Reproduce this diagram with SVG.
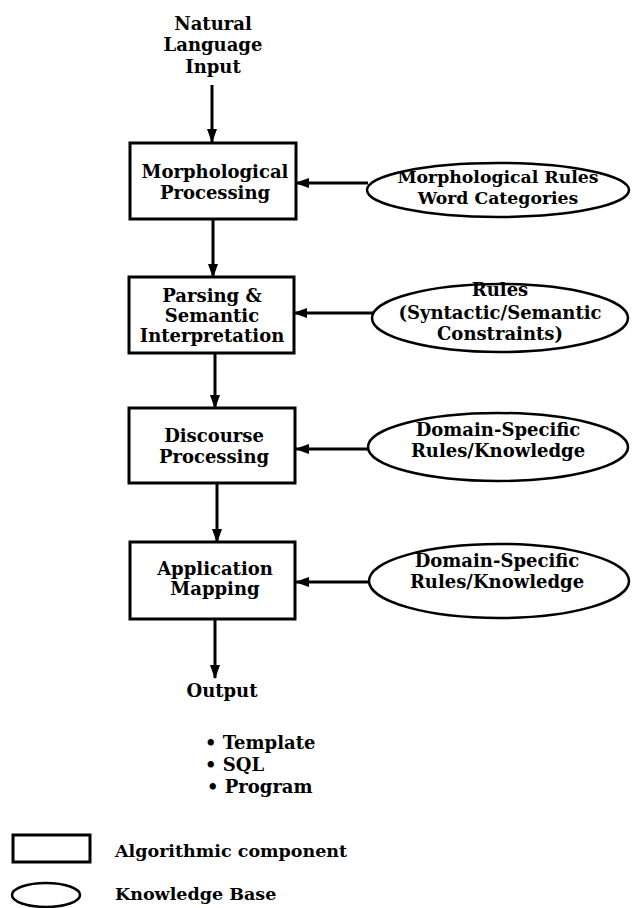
<svg xmlns="http://www.w3.org/2000/svg" width="632" height="908" viewBox="0 0 632 908">
<defs>
<style>
text{font-family:"DejaVu Serif","Liberation Serif",serif;font-weight:bold;font-size:18px;fill:#000;text-anchor:middle}
.l{text-anchor:start}
.s{font-size:17.3px}
.box{fill:#fff;stroke:#000;stroke-width:3}
.kb{fill:#fff;stroke:#000;stroke-width:2.5}
.c{stroke:#000;stroke-width:3;fill:none}
</style>
<marker id="ah" viewBox="0 0 14 10" refX="13" refY="5" markerWidth="14" markerHeight="10" markerUnits="userSpaceOnUse" orient="auto">
<path d="M0,0 L14,5 L0,10 Z" fill="#000"/>
</marker>
</defs>
<rect width="632" height="908" fill="#fff"/>

<g id="input">
<text x="213" y="30">Natural</text>
<text x="213" y="51">Language</text>
<text x="213" y="73">Input</text>
</g>

<g id="connectors">
<line class="c" x1="212" y1="85" x2="212" y2="142" marker-end="url(#ah)"/>
<line class="c" x1="213" y1="219" x2="213" y2="277" marker-end="url(#ah)"/>
<line class="c" x1="215" y1="353" x2="215" y2="408" marker-end="url(#ah)"/>
<line class="c" x1="217" y1="483" x2="217" y2="542" marker-end="url(#ah)"/>
<line class="c" x1="215" y1="619" x2="215" y2="678" marker-end="url(#ah)"/>
<line class="c" x1="368" y1="183" x2="296" y2="183" marker-end="url(#ah)"/>
<line class="c" x1="373" y1="313" x2="294" y2="313" marker-end="url(#ah)"/>
<line class="c" x1="368" y1="449" x2="296" y2="449" marker-end="url(#ah)"/>
<line class="c" x1="370" y1="582" x2="296" y2="582" marker-end="url(#ah)"/>
</g>

<g id="morph">
<rect class="box" x="130" y="143" width="166" height="76"/>
<text x="215" y="178">Morphological</text>
<text x="215" y="199">Processing</text>
</g>
<g id="parse">
<rect class="box" x="129" y="277" width="165" height="76"/>
<text x="212" y="302">Parsing &amp;</text>
<text x="212" y="322">Semantic</text>
<text x="212" y="342">Interpretation</text>
</g>
<g id="discourse">
<rect class="box" x="129" y="408" width="166" height="75"/>
<text x="214" y="442">Discourse</text>
<text x="214" y="463">Processing</text>
</g>
<g id="appmap">
<rect class="box" x="130" y="542" width="165" height="77"/>
<text x="215" y="575">Application</text>
<text x="215" y="595">Mapping</text>
</g>

<g id="kb1">
<ellipse class="kb" cx="498" cy="190" rx="131" ry="27"/>
<text class="s" x="498" y="183">Morphological Rules</text>
<text class="s" x="498" y="204">Word Categories</text>
</g>
<g id="kb2">
<ellipse class="kb" cx="500" cy="318" rx="128" ry="34"/>
<text x="500" y="296">Rules</text>
<text x="500" y="319">(Syntactic/Semantic</text>
<text x="500" y="340">Constraints)</text>
</g>
<g id="kb3">
<ellipse class="kb" cx="498" cy="447" rx="130" ry="34"/>
<text x="498" y="436">Domain-Specific</text>
<text x="498" y="457">Rules/Knowledge</text>
</g>
<g id="kb4">
<ellipse class="kb" cx="499" cy="581" rx="130" ry="37"/>
<text x="497" y="567">Domain-Specific</text>
<text x="497" y="588">Rules/Knowledge</text>
</g>

<g id="output">
<text x="222" y="697">Output</text>
<text class="l" x="205" y="749">• Template</text>
<text class="l" x="205" y="771">• SQL</text>
<text class="l" x="207" y="793">• Program</text>
</g>

<g id="legend">
<rect class="box" x="13" y="835" width="77" height="27"/>
<text class="l" x="115" y="857" style="font-size:17.5px">Algorithmic component</text>
<ellipse class="kb" cx="46" cy="895" rx="34" ry="12"/>
<text class="l" x="115" y="900" style="font-size:17.5px">Knowledge Base</text>
</g>
</svg>
